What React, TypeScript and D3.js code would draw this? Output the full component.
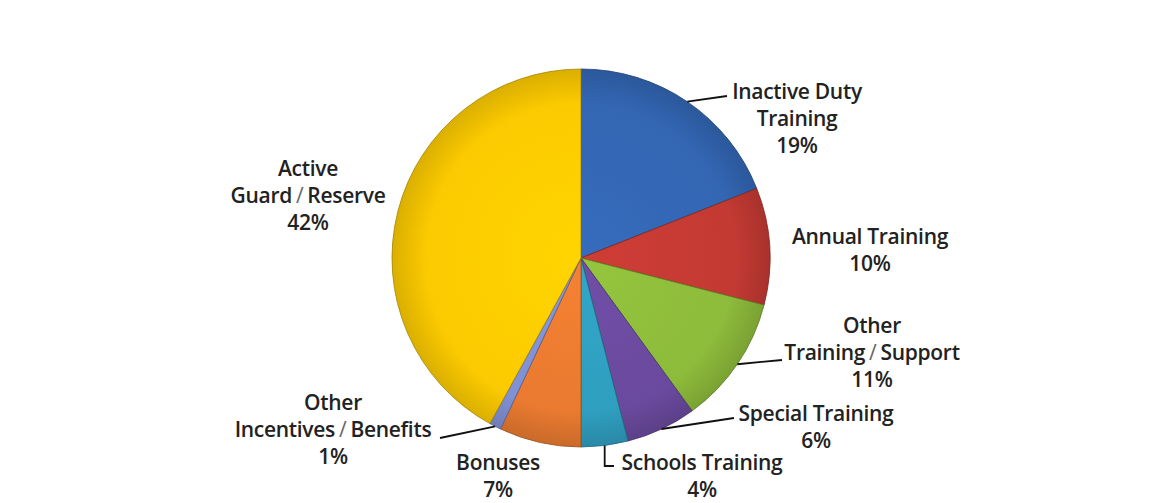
import React from "react";
import * as d3 from "d3";

const categories = [
  "Inactive Duty Training",
  "Annual Training",
  "Other Training/Support",
  "Special Training",
  "Schools Training",
  "Bonuses",
  "Other Incentives/Benefits",
  "Active Guard/Reserve",
];
const values = [19, 10, 11, 6, 4, 7, 1, 42];
const labelLines = [
  ["Inactive Duty", "Training", "19%"],
  ["Annual Training", "10%"],
  ["Other", "Training/Support", "11%"],
  ["Special Training", "6%"],
  ["Schools Training", "4%"],
  ["Bonuses", "7%"],
  ["Other", "Incentives/Benefits", "1%"],
  ["Active", "Guard/Reserve", "42%"],
];
const colors = ["#3366b3", "#c33a33", "#8dbb3b", "#6a4a9e", "#2f9ebf", "#e97a30", "#8090d4", "#fcca00"];

// label layout: text center x, first baseline y, leader end point (or null), leader style
const labelLayout = [
  { x: 797, y: 99, end: [727, 96], kind: "line" },
  { x: 870, y: 244, end: null, kind: "none" },
  { x: 872, y: 333, end: [782, 360], kind: "line" },
  { x: 816, y: 421, end: [734, 418], kind: "line" },
  { x: 702, y: 470, end: [614, 466], kind: "elbow" },
  { x: 498, y: 470, end: null, kind: "none" },
  { x: 333, y: 410, end: [440, 438], kind: "line" },
  { x: 308, y: 176, end: null, kind: "none" },
];

const W = 1150;
const H = 503;
const cx = 581;
const cy = 258;
const R = 189;
const lineH = 27;
const slashGap = 4;

function renderLine(ln: string, x: number, y: number, key: number) {
  const idx = ln.indexOf("/");
  if (idx < 0) {
    return (
      <tspan key={key} x={x} y={y}>
        {ln}
      </tspan>
    );
  }
  return (
    <React.Fragment key={key}>
      <tspan x={x} y={y}>
        {ln.slice(0, idx)}
      </tspan>
      <tspan dx={slashGap} fontWeight={400} fill="#666">
        /
      </tspan>
      <tspan dx={slashGap}>{ln.slice(idx + 1)}</tspan>
    </React.Fragment>
  );
}

export default function App() {
  const pie = d3.pie<number>().sort(null).value((d) => d);
  const arcs = pie(values);
  const arc = d3.arc<d3.PieArcDatum<number>>().innerRadius(0).outerRadius(R);

  return (
    <svg
      width={W}
      height={H}
      style={{ position: "absolute", left: 0, top: 0, background: "#fff" }}
      fontFamily="'Open Sans', 'DejaVu Sans', sans-serif"
    >
      <defs>
        {colors.map((c, i) => (
          <radialGradient key={i} id={`g${i}`} gradientUnits="userSpaceOnUse" cx={0} cy={0} r={R}>
            <stop offset="0%" stopColor={d3.color(c)!.brighter(0.15).formatHex()} />
            <stop offset="82%" stopColor={c} />
            <stop offset="100%" stopColor={d3.color(c)!.darker(0.4).formatHex()} />
          </radialGradient>
        ))}
      </defs>
      <rect x={0} y={0} width={W} height={H} fill="#fff" />
      <g transform={`translate(${cx},${cy})`}>
        {arcs.map((a, i) => (
          <path
            key={categories[i]}
            d={arc(a) || ""}
            fill={`url(#g${i})`}
            stroke={d3.color(colors[i])!.darker(1.2).formatHex()}
            strokeWidth={0.8}
          />
        ))}
      </g>
      {arcs.map((a, i) => {
        const L = labelLayout[i];
        if (!L.end) return null;
        const mid = (a.startAngle + a.endAngle) / 2;
        const sx = cx + R * Math.sin(mid);
        const sy = cy - R * Math.cos(mid);
        let d: string;
        if (L.kind === "elbow") {
          d = `M${sx},${sy}L${sx},${L.end[1]}L${L.end[0]},${L.end[1]}`;
        } else {
          d = `M${sx},${sy}L${L.end[0]},${L.end[1]}`;
        }
        return <path key={"l" + i} d={d} fill="none" stroke="#111" strokeWidth={1.8} />;
      })}
      {labelLines.map((lines, i) => {
        const L = labelLayout[i];
        return (
          <text
            key={"t" + i}
            textAnchor="middle"
            fontSize={21}
            fontWeight={600}
            letterSpacing={-0.3}
            fill="#222"
          >
            {lines.map((ln, j) => renderLine(ln, L.x, L.y + j * lineH, j))}
          </text>
        );
      })}
    </svg>
  );
}
